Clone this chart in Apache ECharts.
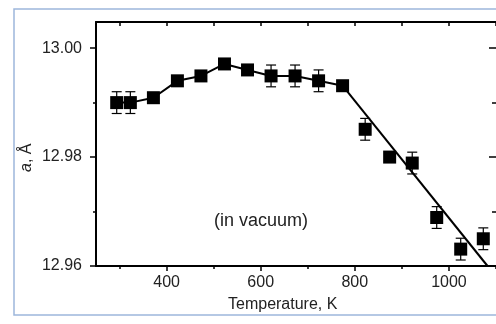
<!DOCTYPE html>
<html>
<head>
<meta charset="utf-8">
<script src="https://cdn.jsdelivr.net/npm/echarts@6/dist/echarts.min.js"></script>
<style>
  html, body { margin: 0; padding: 0; background: #fff; }
  #chart { width: 496px; height: 324px; }
</style>
</head>
<body>
<div id="chart"></div>
<script>
// lattice parameter vs temperature
const temps = [294, 323, 372, 423, 473, 523, 572, 622, 673, 723, 774, 822, 874, 922, 974, 1025, 1073]
const latt = [12.990, 12.990, 12.9909, 12.9940, 12.9949, 12.9971, 12.9960, 12.9949, 12.9949, 12.9940, 12.9931,
  12.9851, 12.9800, 12.9789, 12.9689, 12.9631, 12.9650]
const errs = [0.002, 0.002, 0, 0, 0, 0, 0, 0.002, 0.002, 0.002, 0, 0.002, 0, 0.002, 0.002, 0.002, 0.002]
// first 11 points are joined, then a straight fit
const joinedCount = 11
const fitT = [774, 1082]
const fitA = [12.9931, 12.96]

const xMajor = [400, 600, 800, 1000]
const xMinor = [300, 500, 700, 900, 1100]
const xAll = [300, 400, 500, 600, 700, 800, 900, 1000, 1100]
const yMajor = [12.96, 12.98, 13.00]
const yMinor = [12.97, 12.99]

const font = 'Liberation Sans, Arial, sans-serif'
const black = '#000'

const points = temps.map((t, i) => [t, latt[i]])
const joined = points.slice(0, joinedCount)
const fit = fitT.map((t, i) => [t, fitA[i]])
const bars = temps.map((t, i) => [t, latt[i], errs[i]]).filter(d => d[2] > 0)

const chart = echarts.init(document.getElementById('chart'))

const xBase = { type: 'value', min: 250, max: 1100, gridIndex: 0, splitLine: { show: false } }
const yBase = { type: 'value', min: 12.96, max: 13.0048, gridIndex: 0, splitLine: { show: false } }
const tickStyle = { color: black, width: 1.5 }

const option = {
  animation: false,
  grid: { left: 96, top: 22, right: -2, bottom: 58 },
  xAxis: [
    {
      ...xBase, position: 'bottom',
      axisLine: { lineStyle: { color: black, width: 2 } },
      axisTick: { customValues: xMajor, length: 5, lineStyle: tickStyle },
      axisLabel: {
        customValues: xMajor, margin: 9, color: '#222', fontSize: 16, fontFamily: font,
        formatter: v => String(v)
      }
    },
    {
      ...xBase, position: 'bottom',
      axisLine: { show: false },
      axisTick: { customValues: xMinor, length: 3, lineStyle: tickStyle },
      axisLabel: { show: false }
    },
    {
      ...xBase, position: 'top',
      axisLine: { lineStyle: { color: black, width: 2 } },
      axisTick: { inside: true, customValues: xAll, length: 4, lineStyle: tickStyle },
      axisLabel: { show: false }
    }
  ],
  yAxis: [
    {
      ...yBase, position: 'left',
      axisLine: { lineStyle: { color: black, width: 2 } },
      axisTick: { customValues: yMajor, length: 6, lineStyle: tickStyle },
      axisLabel: {
        customValues: yMajor, margin: 14, color: '#222', fontSize: 16, fontFamily: font,
        formatter: v => v.toFixed(2)
      }
    },
    {
      ...yBase, position: 'left',
      axisLine: { show: false },
      axisTick: { customValues: yMinor, length: 3, lineStyle: tickStyle },
      axisLabel: { show: false }
    },
    {
      ...yBase, position: 'right', offset: 2,
      axisLine: { lineStyle: { color: black, width: 2 } },
      axisTick: { inside: true, customValues: yMajor, length: 9, lineStyle: tickStyle },
      axisLabel: { show: false }
    },
    {
      ...yBase, position: 'right', offset: 2,
      axisLine: { show: false },
      axisTick: { inside: true, customValues: yMinor, length: 6, lineStyle: tickStyle },
      axisLabel: { show: false }
    }
  ],
  graphic: [
    {
      type: 'rect', silent: true, z: -1,
      shape: { x: 14, y: 9, width: 520, height: 306 },
      style: { fill: 'none', stroke: '#9db7db', lineWidth: 1.5 }
    },
    {
      type: 'text', left: 228, top: 297,
      style: { text: 'Temperature, K', fill: '#222', font: '16px ' + font }
    },
    {
      type: 'text', left: 214, top: 212,
      style: { text: '(in vacuum)', fill: '#222', font: '18px ' + font }
    },
    {
      type: 'text', x: 19, y: 172, rotation: Math.PI / 2,
      style: {
        text: '{i|a}, Å', fill: '#222', font: '16px ' + font,
        rich: { i: { fontStyle: 'italic', fontSize: 16, fontFamily: font, fill: '#222' } }
      }
    }
  ],
  series: [
    {
      type: 'custom', xAxisIndex: 0, yAxisIndex: 0, z: 2,
      data: bars,
      renderItem(params, api) {
        const t = api.value(0), a = api.value(1), e = api.value(2)
        const hi = api.coord([t, a + e])
        const lo = api.coord([t, a - e])
        const cap = 5
        const style = { stroke: black, lineWidth: 1.2 }
        return {
          type: 'group',
          children: [
            { type: 'line', shape: { x1: hi[0], y1: hi[1], x2: lo[0], y2: lo[1] }, style },
            { type: 'line', shape: { x1: hi[0] - cap, y1: hi[1], x2: hi[0] + cap, y2: hi[1] }, style },
            { type: 'line', shape: { x1: lo[0] - cap, y1: lo[1], x2: lo[0] + cap, y2: lo[1] }, style }
          ]
        }
      }
    },
    {
      type: 'line', data: joined, symbol: 'none', z: 3,
      lineStyle: { color: black, width: 2 }
    },
    {
      type: 'line', data: fit, symbol: 'none', z: 3, clip: true,
      lineStyle: { color: black, width: 2 }
    },
    {
      type: 'scatter', data: points, symbol: 'rect', symbolSize: 13, z: 4,
      itemStyle: { color: black, opacity: 1 }
    }
  ]
}
chart.setOption(option)
</script>
</body>
</html>
